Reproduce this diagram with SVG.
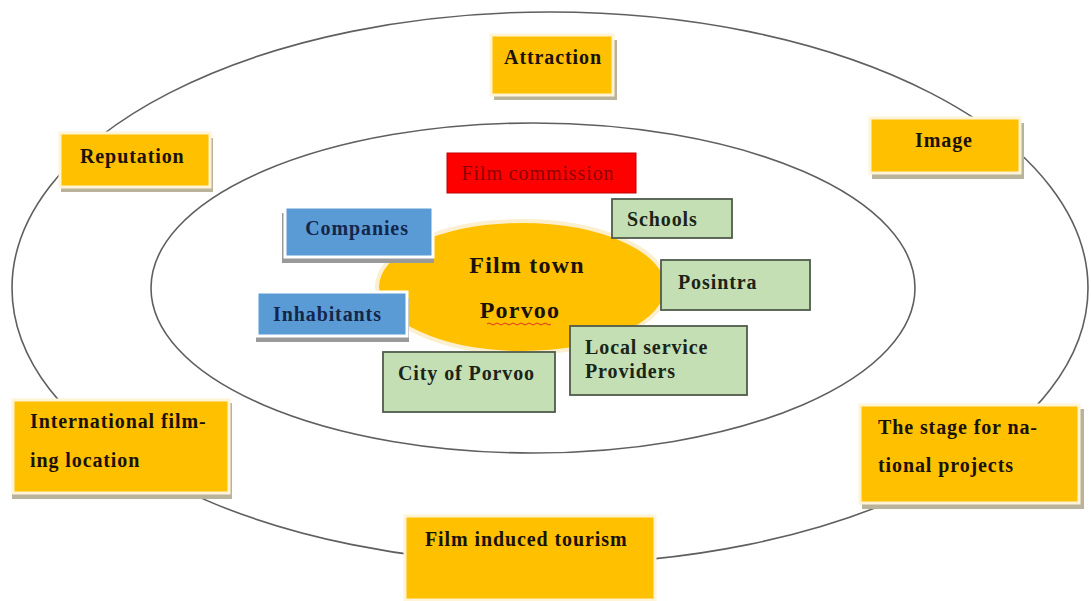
<svg xmlns="http://www.w3.org/2000/svg" width="1091" height="601" viewBox="0 0 1091 601">
<style>
  .ring { fill: none; stroke: #5f5f5f; stroke-width: 1.6; }
  .org { fill: #FFC000; stroke: #FFF4D6; stroke-width: 3; }
  .orgsh { fill: #B9B39C; }
  .blu { fill: #5B9BD5; stroke: #FFFFFF; stroke-width: 3; }
  .blush { fill: #9A9A9A; }
  .grn { fill: #C5DFB4; stroke: #4F5B4C; stroke-width: 1.8; }
  .red { fill: #FF0000; stroke: #C00000; stroke-width: 1; }
  text { font-family: "Liberation Serif", "Times New Roman", serif; font-weight: bold; font-size: 20px; letter-spacing: 0.9px; fill: #1a1208; }
  .tb { fill: #14264A; }
  .tg { fill: #1B2418; }
  .tr { fill: #8E0000; font-weight: normal; }
  .big { font-size: 24px; letter-spacing: 1.2px; }
</style>
<rect width="1091" height="601" fill="#ffffff"/>
<g id="connectors">
  <ellipse class="ring" cx="550" cy="288" rx="538" ry="276"/>
  <ellipse class="ring" cx="533" cy="288" rx="382" ry="165"/>
</g>
<g id="center">
  <ellipse cx="522" cy="287" rx="145" ry="66" fill="#FFC000" stroke="#FBEFD0" stroke-width="4"/>
  <text class="big" x="527" y="273" text-anchor="middle">Film town</text>
  <text class="big" x="520" y="318" text-anchor="middle">Porvoo</text>
  <path d="M487 324 q2 -2 4 0 t4 0 t4 0 t4 0 t4 0 t4 0 t4 0 t4 0 t4 0 t4 0 t4 0 t4 0 t4 0 t4 0 t4 0 t4 0" fill="none" stroke="#E03020" stroke-width="1"/>
</g>
<g id="attraction">
  <rect class="orgsh" x="494" y="40" width="123" height="60"/>
  <rect class="org" x="491" y="35" width="122" height="60"/>
  <text x="553" y="64" text-anchor="middle">Attraction</text>
</g>
<g id="reputation">
  <rect class="orgsh" x="61" y="138" width="152" height="54"/>
  <rect class="org" x="60" y="133" width="150" height="54"/>
  <text x="80" y="163">Reputation</text>
</g>
<g id="image">
  <rect class="orgsh" x="872" y="123" width="152" height="56"/>
  <rect class="org" x="870" y="118" width="150" height="55"/>
  <text x="944" y="147" text-anchor="middle">Image</text>
</g>
<g id="film-commission">
  <rect class="red" x="447" y="153" width="189" height="40"/>
  <text class="tr" x="538" y="180" text-anchor="middle">Film commission</text>
</g>
<g id="schools">
  <rect class="grn" x="612" y="199" width="120" height="39"/>
  <text class="tg" x="627" y="226">Schools</text>
</g>
<g id="companies">
  <rect class="blush" x="282" y="213" width="152" height="50"/>
  <rect class="blu" x="285" y="207" width="148" height="50"/>
  <text class="tb" x="357" y="235" text-anchor="middle">Companies</text>
</g>
<g id="posintra">
  <rect class="grn" x="661" y="260" width="149" height="50"/>
  <text class="tg" x="678" y="289">Posintra</text>
</g>
<g id="inhabitants">
  <rect class="blush" x="256" y="298" width="153" height="44"/>
  <rect class="blu" x="257" y="292" width="150" height="44"/>
  <text class="tb" x="273" y="321">Inhabitants</text>
</g>
<g id="local-service-providers">
  <rect class="grn" x="570" y="326" width="177" height="69"/>
  <text class="tg" x="585" y="354">Local service</text>
  <text class="tg" x="585" y="378">Providers</text>
</g>
<g id="city-of-porvoo">
  <rect class="grn" x="383" y="352" width="172" height="60"/>
  <text class="tg" x="398" y="380">City of Porvoo</text>
</g>
<g id="international">
  <rect class="orgsh" x="12" y="403" width="220" height="96"/>
  <rect class="org" x="13" y="400" width="216" height="93"/>
  <text x="30" y="428">International film-</text>
  <text x="30" y="467">ing location</text>
</g>
<g id="stage">
  <rect class="orgsh" x="862" y="409" width="222" height="100"/>
  <rect class="org" x="860" y="405" width="219" height="98"/>
  <text x="878" y="434">The stage for na-</text>
  <text x="878" y="472">tional projects</text>
</g>
<g id="tourism">
  <rect class="org" x="405" y="516" width="250" height="84"/>
  <text x="425" y="546">Film induced tourism</text>
</g>
</svg>
